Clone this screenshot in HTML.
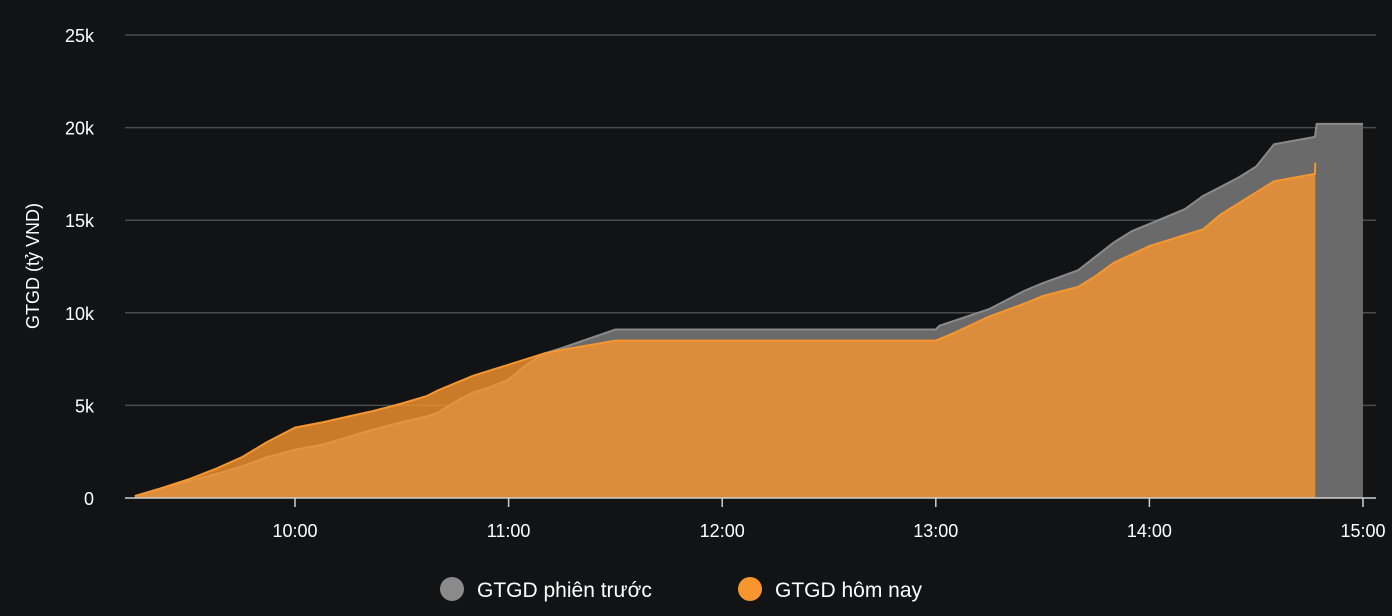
<!DOCTYPE html>
<html><head><meta charset="utf-8"><style>
html,body{margin:0;padding:0;background:#121315;}
svg{display:block;font-family:"Liberation Sans","DejaVu Sans",sans-serif;}
</style></head><body>
<svg id="chart" width="1392" height="616" viewBox="0 0 1392 616" xmlns="http://www.w3.org/2000/svg">
<rect width="1392" height="616" fill="#121315"/>
<g id="grid"></g>
<g id="areas"></g>
<g id="axes"></g>
<text transform="translate(39,266) rotate(-90)" text-anchor="middle" fill="#fff" font-size="18">GTGD (tỷ VND)</text>
<g>
<g><circle cx="452" cy="589" r="12" fill="#8a8a8a"/><text x="477" y="597" fill="#fff" font-size="21">GTGD phiên trước</text></g>
<g><circle cx="750" cy="589" r="12" fill="#f7962f"/><text x="775" y="597" fill="#fff" font-size="21">GTGD hôm nay</text></g>
</g>
</svg>
<script>
// minutes since 9:00 (13:00 = 240, 14:00 = 300, 15:00 = 360), values in k tỷ VND
const prevTimes = [15,22,30,38,45,52,60,68,75,82,90,97,100,105,110,115,120,125,130,135,150,240,241,255,265,270,280,290,295,300,310,315,325,330,335,346.5,347,360];
const prevValues = [0.1,0.5,0.9,1.3,1.7,2.2,2.6,2.9,3.3,3.7,4.1,4.4,4.6,5.2,5.7,6.0,6.4,7.2,7.8,8.1,9.1,9.1,9.3,10.2,11.2,11.6,12.3,13.8,14.4,14.8,15.6,16.3,17.3,17.9,19.1,19.5,20.2,20.2];
const todayTimes = [15,22,30,38,45,52,60,68,75,82,90,97,100,105,110,115,120,125,130,135,150,240,245,255,265,270,280,285,290,300,310,315,320,330,335,346.5,346.6];
const todayValues = [0.1,0.5,1.0,1.6,2.2,3.0,3.8,4.1,4.4,4.7,5.1,5.5,5.8,6.2,6.6,6.9,7.2,7.5,7.8,8.0,8.5,8.5,8.9,9.8,10.5,10.9,11.4,12.0,12.7,13.6,14.2,14.5,15.3,16.5,17.1,17.5,18.1];
const yTicks = [0,5,10,15,20,25];
const yTickLabels = ["0","5k","10k","15k","20k","25k"];
const xTicks = [60,120,180,240,300,360];
const xTickLabels = ["10:00","11:00","12:00","13:00","14:00","15:00"];

const NS="http://www.w3.org/2000/svg";
const x = t => 295 + (t-60)*(1363-295)/300;
const y = v => 498 - v*(498-35)/25;
function mk(tag,attrs,parent){const e=document.createElementNS(NS,tag);for(const k in attrs)e.setAttribute(k,attrs[k]);parent.appendChild(e);return e;}
const grid=document.getElementById('grid'),areas=document.getElementById('areas'),axes=document.getElementById('axes');
yTicks.forEach((v,i)=>{
  if(v>0){const l=mk('line',{x1:125,x2:1376,y1:y(v),y2:y(v),stroke:'#4a4b4d','stroke-width':1.5},grid);
  
  }
  const t=mk('text',{x:94,y:y(v)+7,'text-anchor':'end',fill:'#fff','font-size':18},axes);t.textContent=yTickLabels[i];
  
  
});
function area(times,vals,fill,stroke,op,name){
  let d='M'+x(times[0])+','+y(0);
  times.forEach((t,i)=>{d+=' L'+x(t).toFixed(1)+','+y(vals[i]).toFixed(1);});
  d+=' L'+x(times[times.length-1]).toFixed(1)+','+y(0)+' Z';
  const p=mk('path',{d:d,fill:fill,'fill-opacity':op},areas);
  
  
  let ld='';times.forEach((t,i)=>{ld+=(i?' L':'M')+x(t).toFixed(1)+','+y(vals[i]).toFixed(1);});
  const l=mk('path',{d:ld,fill:'none',stroke:stroke,'stroke-width':2},areas);
  
  
}
area(prevTimes,prevValues,'#6a6a6a','#8a8a8a',1,'previous-session');
area(todayTimes,todayValues,'#f7962f','#f7962f',0.8,'today');
const ax=mk('line',{x1:125,x2:1376,y1:498,y2:498,stroke:'#cfcfcf','stroke-width':1.5},axes);


xTicks.forEach((t,i)=>{
  const tk=mk('line',{x1:x(t),x2:x(t),y1:498,y2:507,stroke:'#cfcfcf','stroke-width':1.5},axes);
  
  
  const tx=mk('text',{x:x(t),y:537,'text-anchor':'middle',fill:'#fff','font-size':18},axes);tx.textContent=xTickLabels[i];
  
  
});
</script>
</body></html>
